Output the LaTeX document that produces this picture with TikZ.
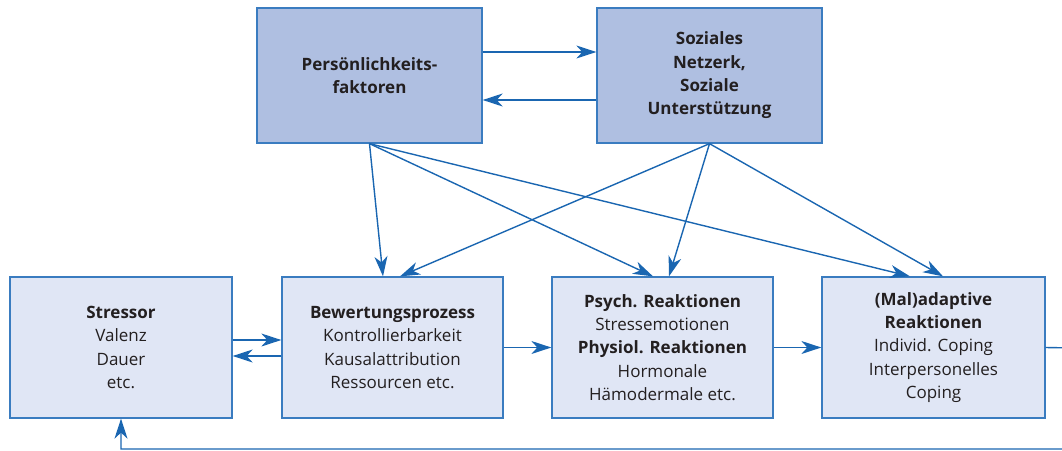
\documentclass[tikz,border=0pt]{standalone}
\usepackage{fontspec}
\setmainfont{Open Sans}
\usetikzlibrary{arrows.meta}
\definecolor{topfill}{HTML}{AFBFE1}
\definecolor{botfill}{HTML}{E0E6F5}
\definecolor{edge}{HTML}{3A7CC0}
\definecolor{arrowc}{HTML}{1A66B1}
\definecolor{txt}{HTML}{231F20}
\tikzset{
  box/.style={draw=edge, line width=1.3pt, rectangle, align=center, text=txt,
    inner sep=0pt, font=\fontsize{17}{23.3}\selectfont},
  topbox/.style={box, fill=topfill, minimum width=225pt, minimum height=135pt},
  botbox/.style={box, fill=botfill, minimum width=222pt, minimum height=141pt},
  conn/.style={draw=arrowc, line width=1.4pt, -{Stealth[length=20pt,width=13pt,inset=6pt]}},
  plain/.style={draw=arrowc, line width=1.4pt}
}
\begin{document}
\begin{tikzpicture}[x=1pt,y=-1pt]
\useasboundingbox (0,0) rectangle (1062,450);
\node[topbox] (pers) at (369.5,75.5) {\bfseries Persönlichkeits-\\\bfseries faktoren};
\node[topbox] (soz) at (709.5,75.5) {\bfseries Soziales\\\bfseries Netzerk,\\\bfseries Soziale\\\bfseries Unterstützung};
\node[botbox] (str) at (121,347.5) {\bfseries Stressor\\Valenz\\Dauer\\etc.};
\node[botbox, minimum width=221pt] (bew) at (392.5,347.5) {\bfseries Bewertungsprozess\\Kontrollierbarkeit\\Kausalattribution\\Ressourcen etc.};
\node[botbox, minimum width=221pt] (psy) at (662.5,347.5) {\bfseries Psych. Reaktionen\\Stressemotionen\\\bfseries Physiol. Reaktionen\\Hormonale\\Hämodermale etc.};
\node[botbox, minimum width=223pt] (mal) at (933.5,347.5) {\bfseries (Mal)adaptive\\\bfseries Reaktionen\\Individ. Coping\\Interpersonelles\\Coping};
% top pair
\draw[conn] ([yshift=23.5pt]pers.east) -- ([yshift=23.5pt]soz.west);
\draw[conn] ([yshift=-24.5pt]soz.west) -- ([yshift=-24.5pt]pers.east);
% stressor pair
\draw[conn] ([yshift=7.5pt]str.east) -- ([yshift=7.5pt]bew.west);
\draw[conn] ([yshift=-8.5pt]bew.west) -- ([yshift=-8.5pt]str.east);
% chain
\draw[conn] (bew.east) -- (psy.west);
\draw[conn] (psy.east) -- (mal.west);
% diagonals
\draw[conn] (pers.south) -- ([xshift=-9.5pt]bew.north);
\draw[conn] (pers.south) -- ([xshift=-9.5pt]psy.north);
\draw[conn] (pers.south) -- ([xshift=-23.5pt]mal.north);
\draw[conn] (soz.south) -- ([xshift=7.5pt]bew.north);
\draw[conn] (soz.south) -- ([xshift=6.5pt]psy.north);
\draw[conn] (soz.south) -- ([xshift=9.5pt]mal.north);
% feedback
\coordinate (fr) at (1075,348);
\coordinate (fb) at (1075,449);
\draw[conn] (mal.east) -- (fr) -- (fb) -| (str.south);
\end{tikzpicture}
\end{document}
